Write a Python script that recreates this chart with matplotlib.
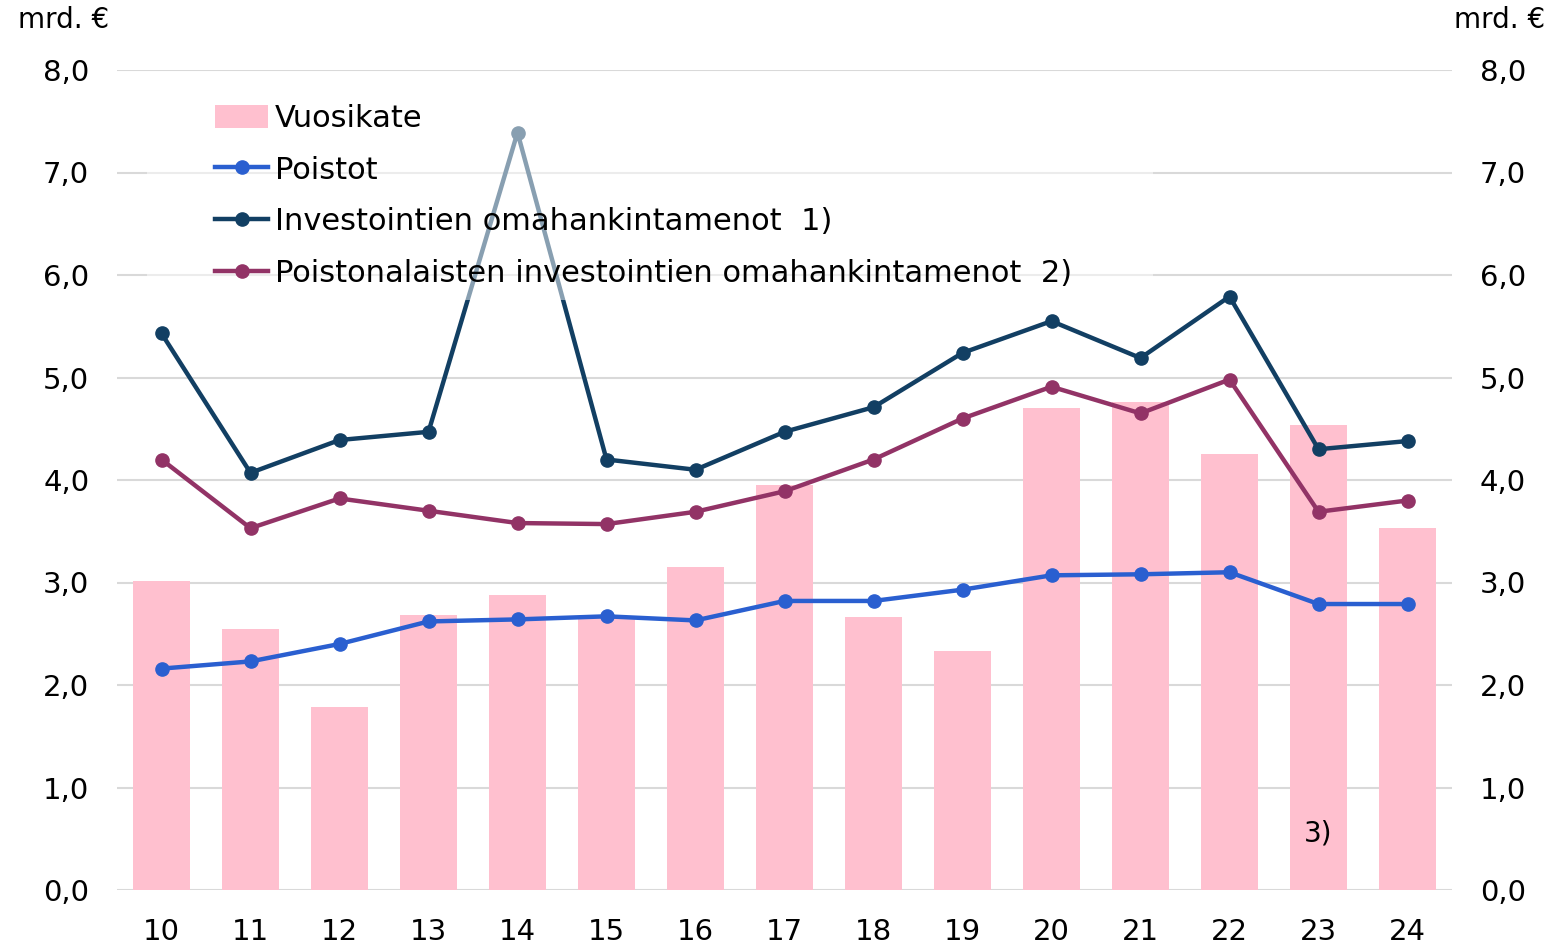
import matplotlib
matplotlib.use("Agg")
import matplotlib.pyplot as plt
from matplotlib.patches import Rectangle
import numpy as np

plt.rcParams["font.family"] = ["DejaVu Sans"]

years = ["10", "11", "12", "13", "14", "15", "16", "17", "18", "19", "20", "21", "22", "23", "24"]
vuosikate = [3.01, 2.55, 1.79, 2.68, 2.88, 2.66, 3.15, 3.95, 2.66, 2.33, 4.70, 4.76, 4.25, 4.54, 3.53]
poistot = [2.16, 2.23, 2.40, 2.62, 2.64, 2.67, 2.63, 2.82, 2.82, 2.93, 3.07, 3.08, 3.10, 2.79, 2.79]
investoinnit = [5.43, 4.07, 4.39, 4.47, 7.39, 4.20, 4.10, 4.47, 4.71, 5.24, 5.55, 5.19, 5.79, 4.30, 4.38]
poistonalaiset = [4.20, 3.53, 3.82, 3.70, 3.58, 3.57, 3.69, 3.89, 4.20, 4.60, 4.91, 4.65, 4.98, 3.69, 3.80]

fig = plt.figure(figsize=(15.68, 9.44), dpi=100)
ax = fig.add_axes([117 / 1568, 1 - 890 / 944, 1335 / 1568, 820 / 944])

x = np.arange(len(years))
b = ax.bar(x, vuosikate, width=0.63, color="#ffc0cf", label="Vuosikate", zorder=1)
l1, = ax.plot(x, poistot, color="#2a5fd0", lw=3.2, marker="o", ms=9.5, label="Poistot", zorder=3)
l2, = ax.plot(x, investoinnit, color="#123f63", lw=3.2, marker="o", ms=9.5,
              label="Investointien omahankintamenot  1)", zorder=3)
l3, = ax.plot(x, poistonalaiset, color="#923366", lw=3.2, marker="o", ms=9.5,
              label="Poistonalaisten investointien omahankintamenot  2)", zorder=3)

ax.set_xlim(-0.5, len(years) - 0.5)
ax.set_ylim(0, 8)
ax.set_yticks(np.arange(0, 8.1, 1.0))
ax.yaxis.set_major_formatter(plt.FuncFormatter(lambda v, _: f"{v:.1f}".replace(".", ",")))
ax.set_xticks(x)
ax.set_xticklabels(years)
ax.grid(axis="y", color="#d9d9d9", lw=1.5, zorder=0)
ax.set_axisbelow(True)
for s in ax.spines.values():
    s.set_visible(False)
ax.tick_params(axis="y", length=0, labelsize=21, pad=20, labelright=True)
ax.tick_params(axis="x", length=0, labelsize=21, pad=20)

fig.text(18 / 1568, 1 - 20 / 944, "mrd. €", fontsize=20, ha="left", va="center")
fig.text(1545 / 1568, 1 - 20 / 944, "mrd. €", fontsize=20, ha="right", va="center")
ax.text(13, 0.55, "3)", fontsize=20, ha="center", va="center")

# semi-transparent legend area (lines show through lighter)
ax.add_patch(Rectangle((30 / 1335, 590 / 820), 1006 / 1335, 222 / 820, transform=ax.transAxes,
                       facecolor="white", alpha=0.5, edgecolor="none", zorder=4))

leg = ax.legend([b, l1, l2, l3], [b.get_label(), l1.get_label(), l2.get_label(), l3.get_label()],
                loc="upper left", bbox_to_anchor=(98 / 1335, 1 - 104 / 820 + 70 / 820), fontsize=22,
                frameon=False, handlelength=1.75, handleheight=0.8, handletextpad=0.2,
                labelspacing=0.74, borderpad=0, borderaxespad=0)
leg.set_zorder(5)

plt.savefig("out.png", dpi=100)
